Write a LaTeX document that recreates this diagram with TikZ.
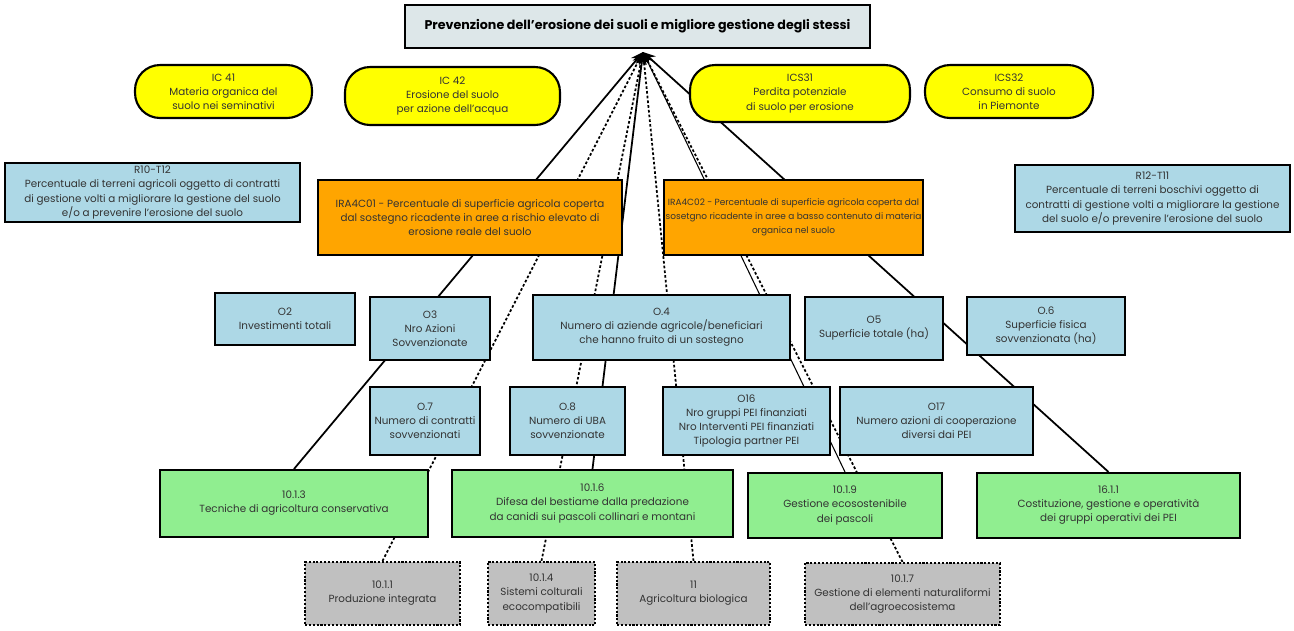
\documentclass[tikz,border=0pt]{standalone}
\usepackage{fontspec}
\setmainfont{Poppins}
\usetikzlibrary{arrows.meta,backgrounds}

\definecolor{grisazul}{RGB}{221,231,233}
\definecolor{amarillo}{RGB}{255,255,0}
\definecolor{celeste}{RGB}{173,216,230}
\definecolor{naranja}{RGB}{255,165,0}
\definecolor{verde}{RGB}{144,238,144}
\definecolor{gris}{RGB}{192,192,192}

\tikzset{
  caja/.style={draw=black, line width=1.2pt, align=center, inner sep=2pt,
    font=\fontsize{5.9}{8}\selectfont, text=black!80},
  titulo/.style={caja, fill=grisazul, font=\fontsize{7.2}{9}\selectfont\bfseries, text=black},
  contesto/.style={caja, fill=amarillo, rounded corners=0.5cm},
  celeste box/.style={caja, fill=celeste},
  impatto/.style={caja, fill=naranja},
  misura/.style={caja, fill=verde},
  indiretta/.style={caja, fill=gris, densely dotted},
  linea/.style={line width=1pt, -{Stealth[length=7pt,width=6pt]}},
  punteada/.style={linea, dash pattern=on 1.5pt off 1.2pt},
}

\begin{document}
\begin{tikzpicture}[x=0.02cm, y=-0.02cm]
		\useasboundingbox (0,0) rectangle (1294,630);

		% Obiettivo in alto
		\node[titulo, minimum width=9.3cm, minimum height=0.86cm] (obj) at (637.5,26.5)
			{Prevenzione dell'erosione dei suoli e migliore gestione degli stessi};
		\coordinate (punta) at (643,52); % punta delle frecce

		% Indicatori di contesto (gialli)
		\node[contesto, minimum width=3.54cm, minimum height=1.06cm] (ic41) at (223.5,91.5)
			{IC 41\\Materia organica del\\suolo nei seminativi};
		\node[contesto, minimum width=4.3cm, minimum height=1.16cm] (ic42) at (452.5,96)
			{IC 42\\Erosione del suolo\\per azione dell'acqua};
		\node[contesto, minimum width=4.4cm, minimum height=1.14cm] (ics31) at (800,93.5)
			{ICS31\\Perdita potenziale\\di suolo per erosione};
		\node[contesto, minimum width=3.36cm, minimum height=1.06cm] (ics32) at (1009,91.5)
			{ICS32\\Consumo di suolo\\in Piemonte};

		% Risultati e impatti
		\node[celeste box, minimum width=5.9cm, minimum height=1.18cm] (r10) at (152.5,192.5)
			{R10-T12\\Percentuale di terreni agricoli oggetto di contratti\\di gestione volti a migliorare la gestione del suolo\\e/o a prevenire l'erosione del suolo};
		\node[impatto, minimum width=6.08cm, minimum height=1.5cm] (ira1) at (470,217.5)
			{IRA4C01 - Percentuale di superficie agricola coperta\\dal sostegno ricadente in aree a rischio elevato di\\erosione reale del suolo};
		\node[impatto, minimum width=5.06cm, minimum height=1.5cm, inner sep=1pt,
			font=\fontsize{5.1}{8}\selectfont] (ira2) at (793.5,217.5)
			{IRA4C02 - Percentuale di superficie agricola coperta dal\\sosetgno ricadente in aree a basso contenuto di materia\\organica nel suolo};
		\node[celeste box, minimum width=5.5cm, minimum height=1.34cm] (r12) at (1152.5,198.5)
			{R12-T11\\Percentuale di terreni boschivi oggetto di\\contratti di gestione volti a migliorare la gestione\\del suolo e/o prevenire l'erosione del suolo};

		% Indicatori di prodotto
		\node[celeste box, minimum width=2.8cm, minimum height=1.04cm] (o2) at (285,319)
			{O2\\Investimenti totali};
		\node[celeste box, minimum width=2.4cm, minimum height=1.26cm] (o3) at (430,328.5)
			{O3\\Nro Azioni\\Sovvenzionate};
		\node[celeste box, minimum width=5.14cm, minimum height=1.3cm] (o4) at (661.5,327.5)
			{O.4\\Numero di aziende agricole/beneficiari\\che hanno fruito di un sostegno};
		\node[celeste box, minimum width=2.76cm, minimum height=1.26cm] (o5) at (874,328.5)
			{O5\\Superficie totale (ha)};
		\node[celeste box, minimum width=3.16cm, minimum height=1.16cm] (o6) at (1046,326)
			{O.6\\Superficie fisica\\sovvenzionata (ha)};
		\node[celeste box, minimum width=2.2cm, minimum height=1.36cm] (o7) at (425,421)
			{O.7\\Numero di contratti\\sovvenzionati};
		\node[celeste box, minimum width=2.3cm, minimum height=1.36cm] (o8) at (567.5,421)
			{O.8\\Numero di UBA\\sovvenzionate};
		\node[celeste box, minimum width=3.34cm, minimum height=1.36cm] (o16) at (746.5,421)
			{O16\\Nro gruppi PEI finanziati\\Nro Interventi PEI finanziati\\Tipologia partner PEI};
		\node[celeste box, minimum width=3.86cm, minimum height=1.36cm] (o17) at (936.5,421)
			{O17\\Numero azioni di cooperazione\\diversi dai PEI};

		% Misure (verdi)
		\node[misura, minimum width=5.36cm, minimum height=1.34cm] (m1013) at (294,503.5)
			{10.1.3\\Tecniche di agricoltura conservativa};
		\node[misura, minimum width=5.62cm, minimum height=1.34cm] (m1016) at (592.5,503.5)
			{10.1.6\\Difesa del bestiame dalla predazione\\da canidi sui pascoli collinari e montani};
		\node[misura, minimum width=3.88cm, minimum height=1.3cm] (m1019) at (845,505.5)
			{10.1.9\\Gestione ecosostenibile\\dei pascoli};
		\node[misura, minimum width=5.26cm, minimum height=1.3cm] (m1611) at (1108.5,505.5)
			{16.1.1\\Costituzione, gestione e operatività\\dei gruppi operativi dei PEI};

		% Misure con effetto indiretto (grigie)
		\node[indiretta, minimum width=3.1cm, minimum height=1.26cm] (m1011) at (382.5,593.5)
			{10.1.1\\Produzione integrata};
		\node[indiretta, minimum width=2.14cm, minimum height=1.26cm] (m1014) at (541.5,593.5)
			{10.1.4\\Sistemi colturali\\ecocompatibili};
		\node[indiretta, minimum width=3.06cm, minimum height=1.26cm] (m11) at (693.5,593.5)
			{11\\Agricoltura biologica};
		\node[indiretta, minimum width=3.9cm, minimum height=1.24cm] (m1017) at (902.5,594)
			{10.1.7\\Gestione di elementi naturaliformi\\dell'agroecosistema};

		% Frecce verso l'obiettivo, dietro le caselle
		\begin{pgfonlayer}{background}
			\draw[linea] (m1013.north) -- (punta);
			\draw[punteada] (m1011.north) -- (punta);
			\draw[punteada] (m1014.north) -- (punta);
			\draw[linea] (m1016.north) -- (punta);
			\draw[punteada] (m11.north) -- (punta);
			\draw[linea, line width=0.6pt] (m1019.north) -- (punta);
			\draw[punteada] (m1017.north) -- (punta);
			\draw[linea] (m1611.north) -- (punta);
		\end{pgfonlayer}
	\end{tikzpicture}
\end{document}
